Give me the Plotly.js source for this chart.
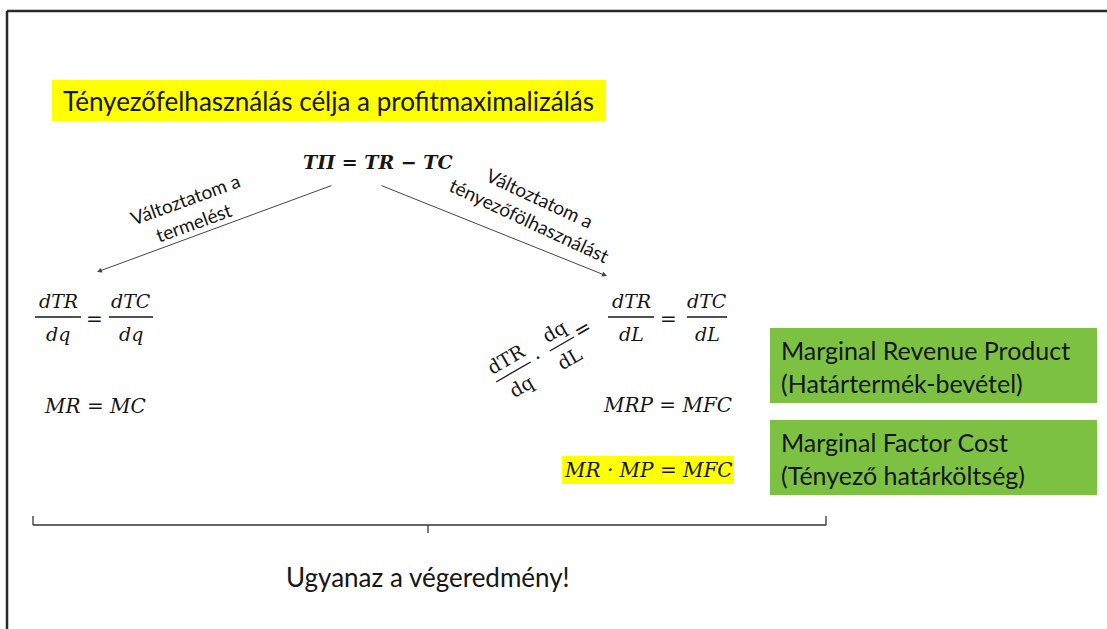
<!DOCTYPE html>
<html><head><meta charset="utf-8">
<script src="https://cdn.plot.ly/plotly-3.0.1.min.js"></script>
<style>html,body{margin:0;padding:0;background:#fff;}#chart{width:1107px;height:629px;}</style>
</head><body><div id="chart"></div>
<script>
// ---- content ----
const headerText = "Tényezőfelhasználás célja a profitmaximalizálás";
const mainEquation = "TΠ = TR − TC";
const branchLabels = ["Változtatom a<br>termelést", "Változtatom a<br>tényezőfölhasználást"];
const leftNumerators = ["dTR", "dTC"];
const leftDenominators = ["dq", "dq"];
const rightNumerators = ["dTR", "dTC"];
const rightDenominators = ["dL", "dL"];
const chainNumerators = ["dTR", "dq"];
const chainDenominators = ["dq", "dL"];
const resultEquations = ["MR = MC", "MRP = MFC", "MR · MP = MFC"];
const definitionLabels = ["Marginal Revenue Product<br>(Határtermék-bevétel)", "Marginal Factor Cost<br>(Tényező határköltség)"];
const conclusionText = "Ugyanaz a végeredmény!";

// ---- styles ----
const SANS = "Lato, 'Open Sans', sans-serif";
const MATH = "'DejaVu Serif', serif";
const TXT = "#161616";
const YELLOW = "#ffff00";
const GREEN = "#7cc142";

const shapes = [];
const ann = [];

function line(x0, y0, x1, y1, color, w) {
  shapes.push({type: 'line', xref: 'x', yref: 'y', x0, y0, x1, y1, line: {color: color || TXT, width: w || 1}});
}
function rect(x0, y0, x1, y1, fill) {
  shapes.push({type: 'rect', xref: 'x', yref: 'y', x0, y0, x1, y1, fillcolor: fill, line: {width: 0}, layer: 'below'});
}
function text(x, y, t, size, family, opts) {
  ann.push(Object.assign({x, y, xref: 'x', yref: 'y', text: t, showarrow: false,
    xanchor: 'center', yanchor: 'middle', font: {size, family, color: TXT}}, opts || {}));
}
function fraction(cx, cy, num, den, w) {
  text(cx, cy - 16, '<i>' + num + '</i>', 19, MATH);
  text(cx, cy + 17, '<i>' + den + '</i>', 19, MATH);
  line(cx - w / 2, cy, cx + w / 2, cy, TXT, 1.3);
}

// border of slide
line(7, 11, 1107, 11, '#2a2a2a', 2.5);
line(7, 11, 7, 629, '#2a2a2a', 2.5);

// header
rect(52, 80, 606, 121, YELLOW);
text(61, 101, headerText, 26, SANS, {xanchor: 'left'});

// main equation
text(378, 162, '<b><i>' + mainEquation + '</i></b>', 19, MATH);

// arrows
ann.push({x: 97, y: 272, ax: 333, ay: 185, xref: 'x', yref: 'y', axref: 'x', ayref: 'y', text: '',
  showarrow: true, arrowhead: 2, arrowsize: 1, arrowwidth: 1, arrowcolor: '#444'});
ann.push({x: 607, y: 276, ax: 380, ay: 185, xref: 'x', yref: 'y', axref: 'x', ayref: 'y', text: '',
  showarrow: true, arrowhead: 2, arrowsize: 1, arrowwidth: 1, arrowcolor: '#444'});

// branch labels
text(189, 211, branchLabels[0], 19, SANS, {textangle: -20});
text(534, 209, branchLabels[1], 19, SANS, {textangle: 25});

// left equations
fraction(58, 317, leftNumerators[0], leftDenominators[0], 46);
text(94, 319, '=', 20, MATH);
fraction(131, 317, leftNumerators[1], leftDenominators[1], 44);
text(95, 406, '<i>' + resultEquations[0] + '</i>', 20, MATH);

// right equations
fraction(631, 317, rightNumerators[0], rightDenominators[0], 46);
text(668, 319, '=', 20, MATH);
fraction(707, 317, rightNumerators[1], rightDenominators[1], 40);
text(667, 405, '<i>' + resultEquations[1] + '</i>', 20, MATH);
rect(562, 456, 734, 484, YELLOW);
text(648, 470, '<i>' + resultEquations[2] + '</i>', 20, MATH);

// rotated chain rule
(function () {
  const ang = -30, a = ang * Math.PI / 180;
  const cx = 548, cy = 352;
  const ux = Math.cos(a), uy = Math.sin(a);      // along text
  const vx = -Math.sin(a), vy = Math.cos(a);     // down (perp)
  const P = (s, t) => [cx + s * ux + t * vx, cy + s * uy + t * vy];
  function rfrac(s, num, den, w) {
    let p = P(s, -15); text(p[0], p[1], num, 19, MATH, {textangle: ang});
    p = P(s, 16); text(p[0], p[1], den, 19, MATH, {textangle: ang});
    const a0 = P(s - w / 2, 0), a1 = P(s + w / 2, 0);
    line(a0[0], a0[1], a1[0], a1[1], TXT, 1.3);
  }
  rfrac(-40, chainNumerators[0], chainDenominators[0], 40);
  let p = P(-12, 0); text(p[0], p[1], '·', 20, MATH, {textangle: ang});
  rfrac(16, chainNumerators[1], chainDenominators[1], 28);
  p = P(41, -3); text(p[0], p[1], '=', 20, MATH, {textangle: ang});
})();

// green definition boxes
rect(770, 328, 1097, 403, GREEN);
rect(770, 420, 1097, 495, GREEN);
text(779, 366, definitionLabels[0], 25, SANS, {xanchor: 'left', align: 'left'});
text(779, 458, definitionLabels[1], 25, SANS, {xanchor: 'left', align: 'left'});

// bracket
line(33, 525, 826, 525, '#333', 1.3);
line(33, 516, 33, 525, '#333', 1.3);
line(826, 516, 826, 525, '#333', 1.3);
line(428, 525, 428, 533, '#333', 1.3);
text(428, 577, conclusionText, 26, SANS);

const layout = {
  width: 1107, height: 629,
  margin: {l: 0, r: 0, t: 0, b: 0},
  paper_bgcolor: '#ffffff', plot_bgcolor: '#ffffff',
  xaxis: {range: [0, 1107], visible: false, fixedrange: true},
  yaxis: {range: [629, 0], visible: false, fixedrange: true},
  shapes: shapes, annotations: ann, showlegend: false
};
Plotly.newPlot('chart', [], layout, {displayModeBar: false, staticPlot: true});
</script></body></html>
